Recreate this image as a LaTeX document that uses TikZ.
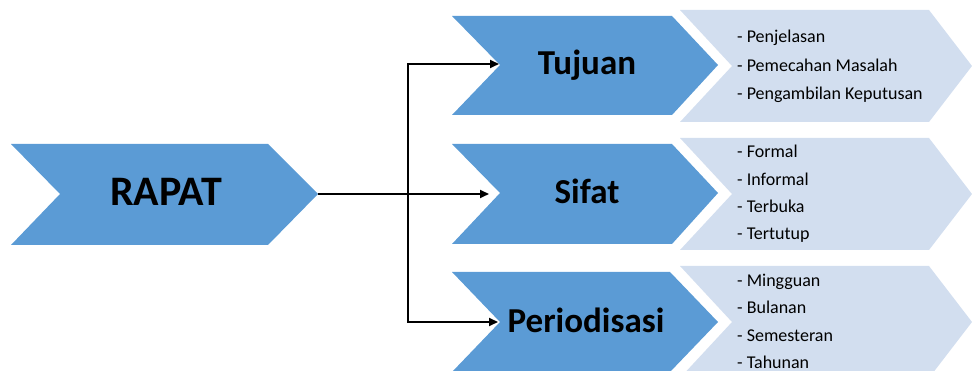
\documentclass[tikz,border=0pt]{standalone}
\usepackage{fontspec}
\setmainfont{Carlito}
\usetikzlibrary{arrows.meta}
\definecolor{chevdark}{HTML}{5B9BD5}
\definecolor{chevlight}{HTML}{D2DEEF}

\begin{document}
\begin{tikzpicture}[x=1pt,y=-1pt,
  darkchev/.style={fill=chevdark},
  lightchev/.style={fill=chevlight},
  bigtext/.style={font=\bfseries\fontsize{42}{48}\selectfont, anchor=base, inner sep=0},
  headtext/.style={font=\bfseries\fontsize{35}{42}\selectfont, anchor=base, inner sep=0},
  itemtext/.style={font=\fontsize{18}{22}\selectfont, anchor=base west, inner sep=0},
  link/.style={line width=2pt},
  arr/.style={link, -{Triangle[length=9pt,width=8pt]}}
]
\useasboundingbox (0,0) rectangle (972,371);
\clip (0,0) rectangle (972,371);

% light chevrons holding the item lists
\fill[lightchev] (680,10) -- (929,10) -- (972,66) -- (929,122) -- (680,122) -- (732,66) -- cycle;
\fill[lightchev] (680,138) -- (929,138) -- (972,194) -- (929,250) -- (680,250) -- (732,194) -- cycle;
\fill[lightchev] (680,266) -- (929,266) -- (972,322) -- (929,378) -- (680,378) -- (732,322) -- cycle;

% main chevrons
\fill[darkchev] (11,144) -- (268,144) -- (318,194) -- (268,245) -- (11,245) -- (60,194) -- cycle;
\fill[darkchev] (452,16) -- (672,16) -- (718,65) -- (672,115) -- (452,115) -- (500,65) -- cycle;
\fill[darkchev] (452,144) -- (672,144) -- (718,193) -- (672,244) -- (452,244) -- (500,193) -- cycle;
\fill[darkchev] (452,272) -- (670,272) -- (718,322) -- (670,372) -- (452,372) -- (500,322) -- cycle;

% headings
\node[bigtext]  (rapat)  at (166,206) {RAPAT};
\node[headtext] (tujuan) at (587,75)  {Tujuan};
\node[headtext] (sifat)  at (587,204) {Sifat};
\node[headtext] (period) at (586,333) {Periodisasi};

% connector end points
\coordinate (rapattip) at (318,194);
\coordinate (junction) at (408,194);
\coordinate (tujuanin) at (499,64);
\coordinate (sifatin)  at (489,194);
\coordinate (periodin) at (498,322);

\draw[link] (rapattip) -- (junction);
\draw[arr] (junction) |- (tujuanin);
\draw[arr] (junction) -- (sifatin);
\draw[arr] (junction) |- (periodin);

% item lists
\node[itemtext] (t1) at (737,43)  {- Penjelasan};
\node[itemtext] (t2) at (737,71.5) {- Pemecahan Masalah};
\node[itemtext] (t3) at (737,100) {- Pengambilan Keputusan};

\node[itemtext] (s1) at (737,158) {- Formal};
\node[itemtext] (s2) at (737,186) {- Informal};
\node[itemtext] (s3) at (737,213) {- Terbuka};
\node[itemtext] (s4) at (737,240) {- Tertutup};

\node[itemtext] (p1) at (737,286.5) {- Mingguan};
\node[itemtext] (p2) at (737,314)   {- Bulanan};
\node[itemtext] (p3) at (737,341.5) {- Semesteran};
\node[itemtext] (p4) at (737,368)   {- Tahunan};
\end{tikzpicture}
\end{document}
